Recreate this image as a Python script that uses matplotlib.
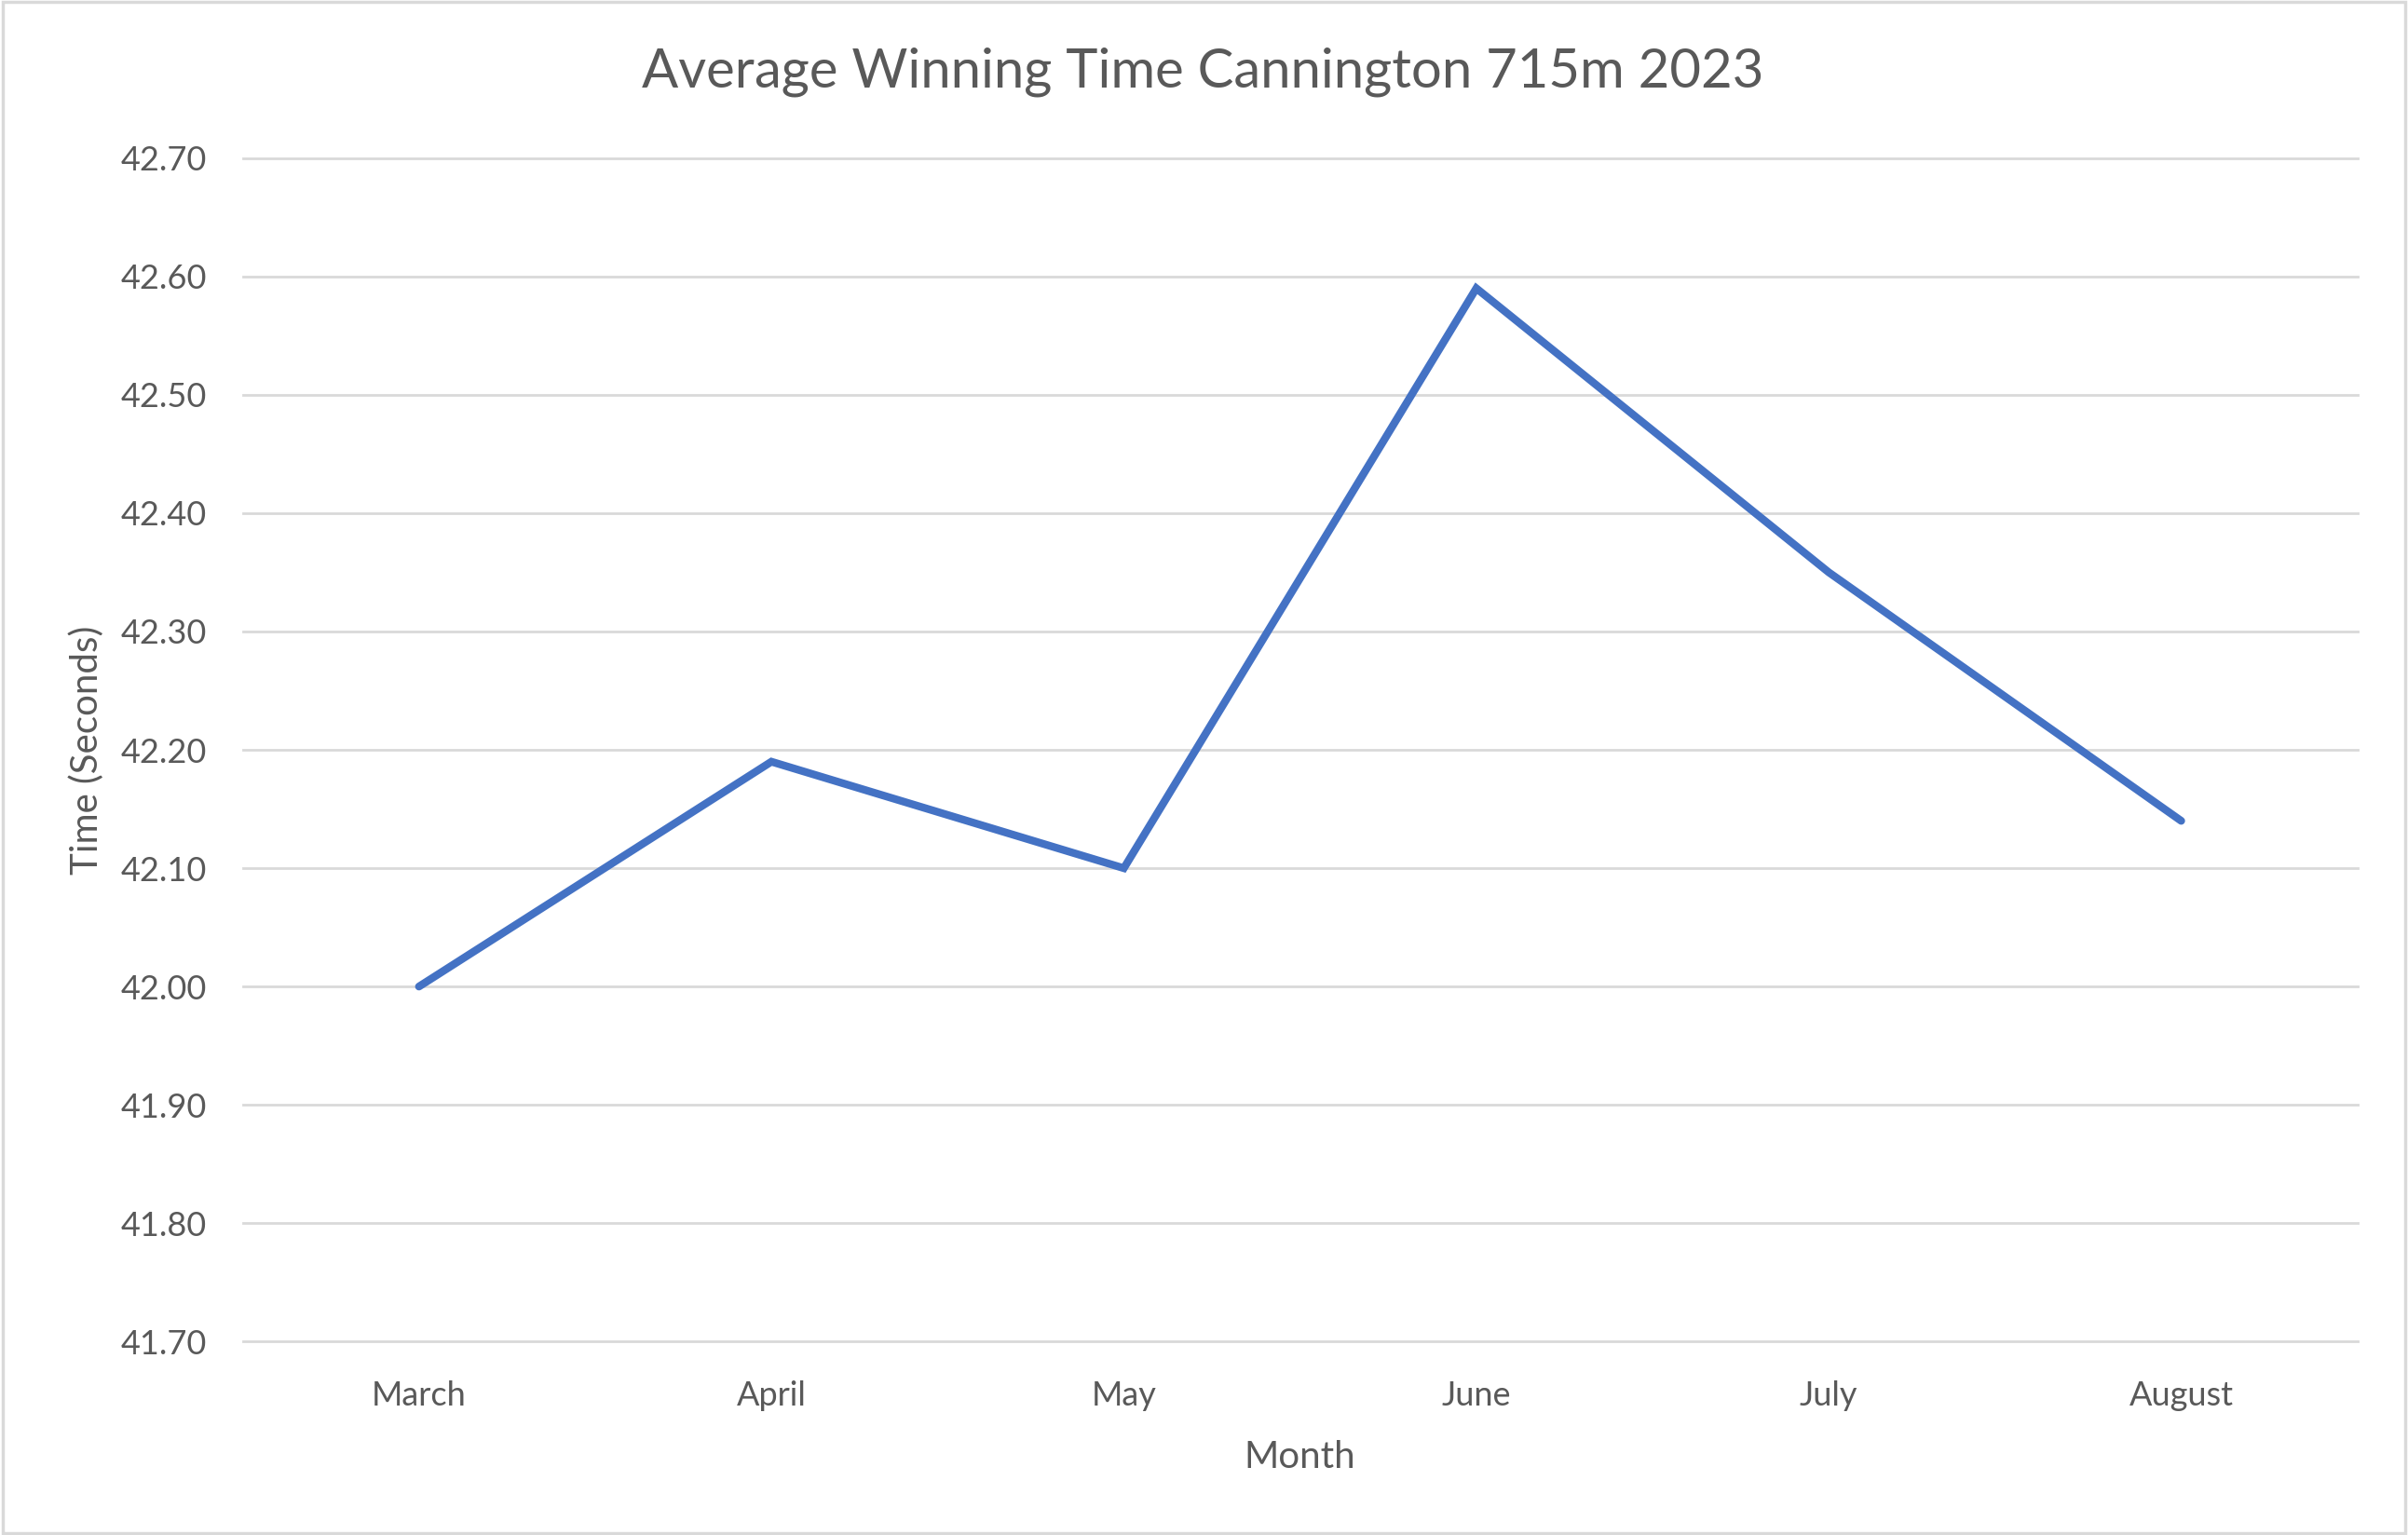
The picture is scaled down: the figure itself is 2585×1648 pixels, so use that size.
import matplotlib.pyplot as plt
from matplotlib.patches import Rectangle

months = ['March', 'April', 'May', 'June', 'July', 'August']
avg_time = [42.00, 42.19, 42.10, 42.59, 42.35, 42.14]
y_ticks = [41.70, 41.80, 41.90, 42.00, 42.10, 42.20, 42.30, 42.40, 42.50, 42.60, 42.70]

text_col = '#595959'
grid_col = '#D9D9D9'
line_col = '#4472C4'

plt.rcParams['font.family'] = ['Lato', 'DejaVu Sans']

fig = plt.figure(figsize=(25.85, 16.48), dpi=100)
ax = fig.add_axes([0.1008, 0.126, 0.8782, 0.771])

x = list(range(len(months)))
ax.plot(x, avg_time, color=line_col, linewidth=6.0, solid_capstyle='round', solid_joinstyle='miter', zorder=3)

ax.set_xlim(-0.5, len(months) - 0.5)
ax.set_ylim(41.70, 42.70)
ax.set_yticks(y_ticks)
ax.set_yticklabels(['{:.2f}'.format(v) for v in y_ticks])
ax.set_xticks(x)
ax.set_xticklabels(months)

ax.grid(axis='y', color=grid_col, linewidth=2.0, zorder=0)
for gl in ax.get_ygridlines():
    gl.set_clip_on(False)
ax.set_axisbelow(True)
for s in ax.spines.values():
    s.set_visible(False)
ax.tick_params(axis='both', length=0, colors=text_col, labelsize=26)
ax.tick_params(axis='y', pad=28)
ax.tick_params(axis='x', pad=30)

ax.set_xlabel('Month', fontsize=29, color=text_col, labelpad=22)
ax.set_ylabel('Time (Seconds)', fontsize=29, color=text_col, labelpad=12)
fig.text(0.4994, 0.953, 'Average Winning Time Cannington 715m 2023', ha='center', va='center',
         fontsize=41.8, color=text_col)

fig.patches.append(Rectangle((0.001, 0.001), 0.998, 0.998, transform=fig.transFigure,
                             fill=False, edgecolor=grid_col, linewidth=2.5))

fig.savefig('out.png', dpi=100, facecolor='white')
